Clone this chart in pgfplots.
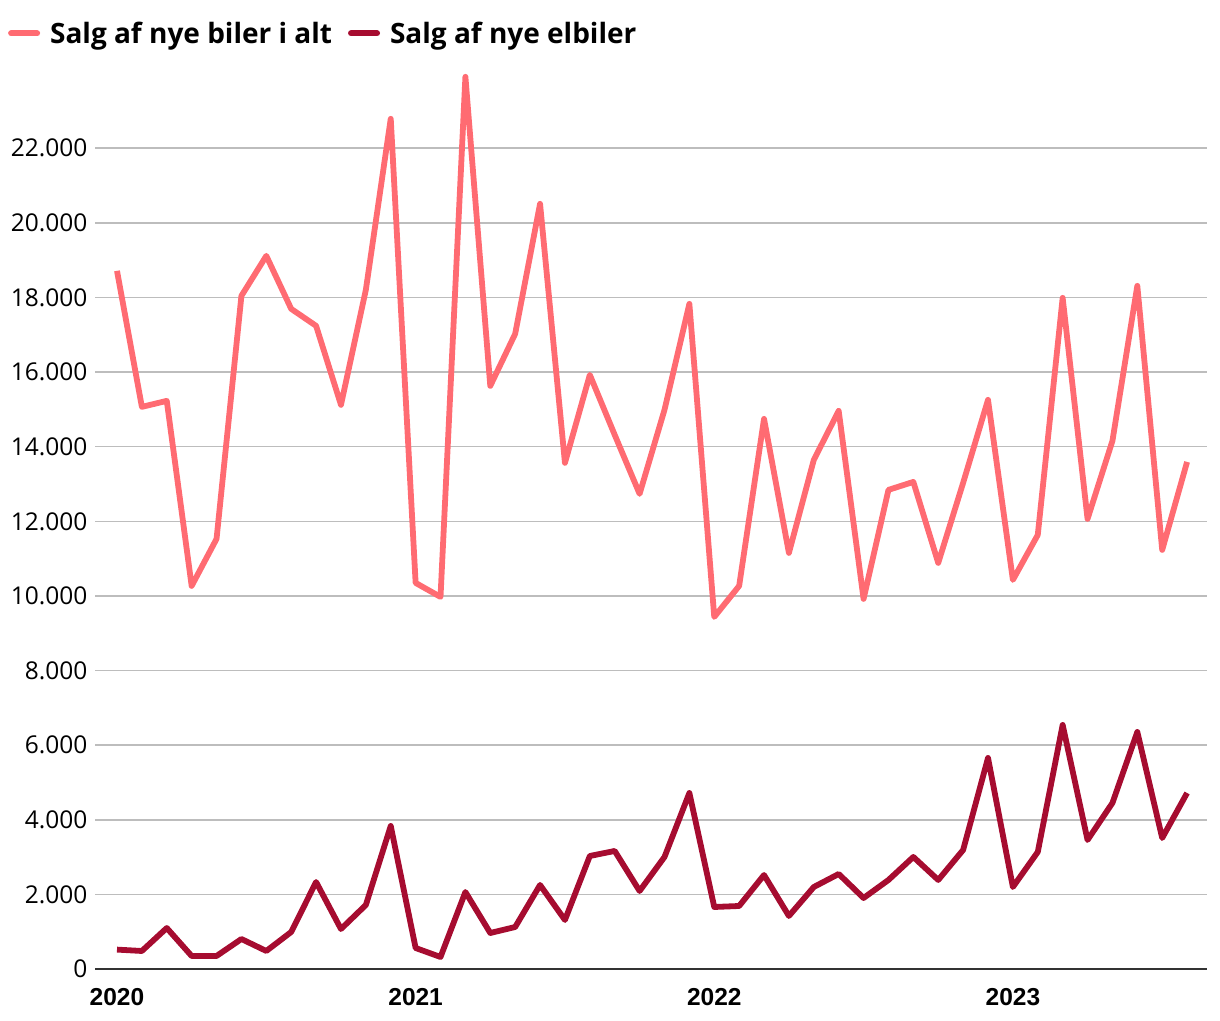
\documentclass[border=0pt]{standalone}
\usepackage{pgfplots}
\pgfplotsset{compat=1.18}
\usepackage{fontspec}
\setmainfont{Open Sans}
\newfontfamily\xfont{Liberation Sans}
\definecolor{lightred}{HTML}{FF6B72}
\definecolor{darkred}{HTML}{A60C30}
\definecolor{gridgray}{HTML}{BDBDBD}
\begin{document}
\begin{tikzpicture}
\path[use as bounding box] (0,0) rectangle (1220pt,1020pt);
\begin{axis}[
  at={(95pt,51pt)}, anchor=south west,
  scale only axis, width=1112pt, height=895.4pt,
  xmin=-0.884, xmax=43.8, ymin=0, ymax=24000,
  axis x line*=bottom, axis y line*=left,
  y axis line style={draw=none},
  x axis line style={draw=black!80, line width=2pt, -},
  xtick={0,12,24,36}, xticklabels={2020,2021,2022,2023},
  xticklabel style={font=\xfont\bfseries\fontsize{24.5}{24.5}\selectfont, yshift=-16pt},
  ytick={0,2000,...,22000},
  scaled y ticks=false,
  yticklabel style={font=\fontsize{24.5}{24.5}\selectfont, xshift=-4pt},
  /pgf/number format/.cd, fixed, precision=0, 1000 sep={.}, assume math mode=true, /pgfplots/.cd,
  ymajorgrids, grid style={gridgray, line width=1.5pt},
  major tick length=0pt,
  legend columns=2,
  legend style={at={(-0.081,1.0624)}, anchor=north west, draw=none, fill=none,
    font=\bfseries\fontsize{28}{28}\selectfont, column sep=8pt,
    /tikz/every even column/.append style={column sep=14pt}},
  legend image code/.code={\draw[#1, line width=6pt, line cap=round] (0pt,0pt) -- (26pt,0pt);},
  every axis plot/.append style={line width=5.8pt, line join=round},
]
\addplot[lightred] coordinates {
(0,18713)(1,15067)(2,15228)(3,10268)(4,11528)(5,18043)(6,19115)(7,17694)(8,17239)(9,15121)(10,18204)(11,22788)
(12,10349)(13,9973)(14,23914)(15,15630)(16,17024)(17,20509)(18,13566)(19,15925)(20,14316)(21,12735)(22,14987)(23,17828)
(24,9437)(25,10268)(26,14745)(27,11153)(28,13646)(29,14960)(30,9920)(31,12842)(32,13056)(33,10885)(34,13029)(35,15255)
(36,10429)(37,11635)(38,17989)(39,12064)(40,14155)(41,18311)(42,11233)(43,13592)};
\addlegendentry{Salg af nye biler i alt}
\addplot[darkred] coordinates {
(0,520)(1,483)(2,1099)(3,349)(4,349)(5,804)(6,483)(7,992)(8,2332)(9,1072)(10,1716)(11,3834)
(12,563)(13,322)(14,2064)(15,965)(16,1126)(17,2252)(18,1314)(19,3029)(20,3164)(21,2091)(22,3003)(23,4718)
(24,1662)(25,1689)(26,2520)(27,1421)(28,2198)(29,2547)(30,1903)(31,2386)(32,3003)(33,2386)(34,3190)(35,5657)
(36,2198)(37,3137)(38,6542)(39,3458)(40,4450)(41,6354)(42,3512)(43,4718)};
\addlegendentry{Salg af nye elbiler}
\end{axis}
\end{tikzpicture}
\end{document}
